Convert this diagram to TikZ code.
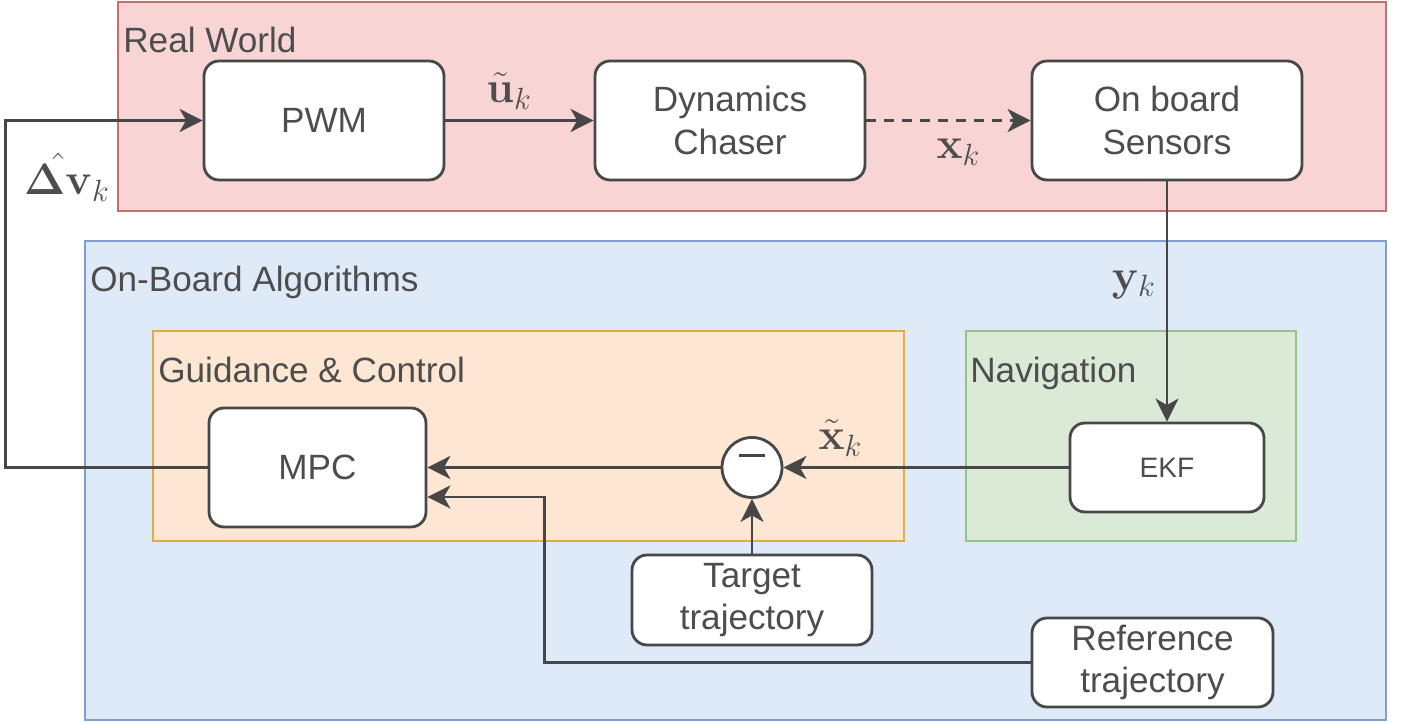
\documentclass[tikz,border=0pt]{standalone}
\usepackage{fix-cm}
\usepackage{amsmath,bm}
\usepackage[no-math]{fontspec}
\setmainfont{Liberation Sans}
\usetikzlibrary{arrows.meta,positioning}

\definecolor{rwfill}{HTML}{F8D5D4}
\definecolor{rwline}{HTML}{C2706B}
\definecolor{obfill}{HTML}{DEEAF7}
\definecolor{obline}{HTML}{7E9FCF}
\definecolor{gcfill}{HTML}{FDE7D3}
\definecolor{gcline}{HTML}{E0AA45}
\definecolor{navfill}{HTML}{DAEAD7}
\definecolor{navline}{HTML}{97C386}
\definecolor{linegray}{HTML}{474747}
\definecolor{textgray}{HTML}{4D4D4D}

\begin{document}
\begin{tikzpicture}[
  x=0.02cm, y=-0.02cm,
  area/.style={rectangle, draw, line width=1.2pt, inner sep=0pt, anchor=north west},
  block/.style={rectangle, rounded corners=0.3cm, draw=linegray, fill=white, line width=1.6pt,
    align=center, text=textgray, font=\fontsize{20}{24}\selectfont},
  tag/.style={anchor=base west, inner sep=0pt, text=textgray, font=\fontsize{20}{24}\selectfont},
  sig/.style={inner sep=0pt, text=textgray, font=\fontsize{25}{30}\selectfont},
  flow/.style={draw=linegray, line width=1.6pt, -{Stealth[length=0.46cm,width=0.46cm,inset=0.13cm]}}
]
\useasboundingbox (0,0) rectangle (1401,722);

% groups
\node[area, draw=rwline, fill=rwfill, minimum width=25.36cm, minimum height=4.18cm] (realworld) at (117,1) {};
\node[area, draw=obline, fill=obfill, minimum width=26.02cm, minimum height=9.58cm] (onboard) at (84,240) {};
\node[area, draw=gcline, fill=gcfill, minimum width=15.02cm, minimum height=4.2cm] (guidance) at (152,330) {};
\node[area, draw=navline, fill=navfill, minimum width=6.6cm, minimum height=4.2cm] (navigation) at (965,330) {};

\node[tag] (rwtag) at (123,53) {Real World};
\node[tag] (obtag) at (90,292) {On-Board Algorithms};
\node[tag] (gctag) at (158,383) {Guidance \& Control};
\node[tag] (navtag) at (970,383) {Navigation};

% blocks
\node[block, minimum width=4.8cm, minimum height=2.38cm] (pwm) at (324,120.5) {PWM};
\node[block, minimum width=5.4cm, minimum height=2.38cm] (dynamics) at (730,120.5) {Dynamics\\Chaser};
\node[block, minimum width=5.4cm, minimum height=2.38cm] (sensors) at (1167,120.5) {On board\\Sensors};
\node[block, minimum width=4.34cm, minimum height=2.38cm] (mpc) at (317.5,467.5) {MPC};
\node[block, minimum width=3.88cm, minimum height=1.78cm, font=\fontsize{16}{19}\selectfont] (ekf) at (1167,467.5) {EKF};
\node[block, minimum width=4.8cm, minimum height=1.8cm] (target) at (752,600) {Target\\trajectory};
\node[block, minimum width=4.82cm, minimum height=1.78cm] (reference) at (1152.5,662.5) {Reference\\trajectory};
\node[circle, draw=linegray, fill=white, line width=1.6pt, minimum size=1.2cm, inner sep=0pt] (diff) at (752,467.5) {};
\draw[linegray, line width=1.6pt] ([shift={(-13,-12)}]diff.center) -- ([shift={(13,-12)}]diff.center);

% signals
\draw[flow] (mpc.west) -- ++(-202,0) |- (pwm.west);
\node[sig] (dvlabel) at (67,177) {$\hat{\boldsymbol{\Delta}\mathbf{v}}_k$};
\draw[flow] (pwm) -- node[sig, above=0.2cm, pos=0.43] (ulabel) {$\tilde{\mathbf{u}}_k$} (dynamics);
\draw[flow, dash pattern=on 0.2cm off 0.16cm] (dynamics) -- node[sig, below=0.34cm, pos=0.56] (xlabel) {$\mathbf{x}_k$} (sensors);
\draw[flow] (sensors) -- node[sig, left=0.2cm, pos=0.43] (ylabel) {$\mathbf{y}_k$} (ekf);
\draw[flow] (ekf) -- node[sig, above=0.2cm, pos=0.8] (xtlabel) {$\tilde{\mathbf{x}}_k$} (diff);
\draw[flow] (diff) -- (mpc);
\draw[flow] (target) -- (diff);
\draw[flow] (reference.west) -- ++(-486,0) |- ([yshift=-0.59cm]mpc.east);
\end{tikzpicture}
\end{document}
